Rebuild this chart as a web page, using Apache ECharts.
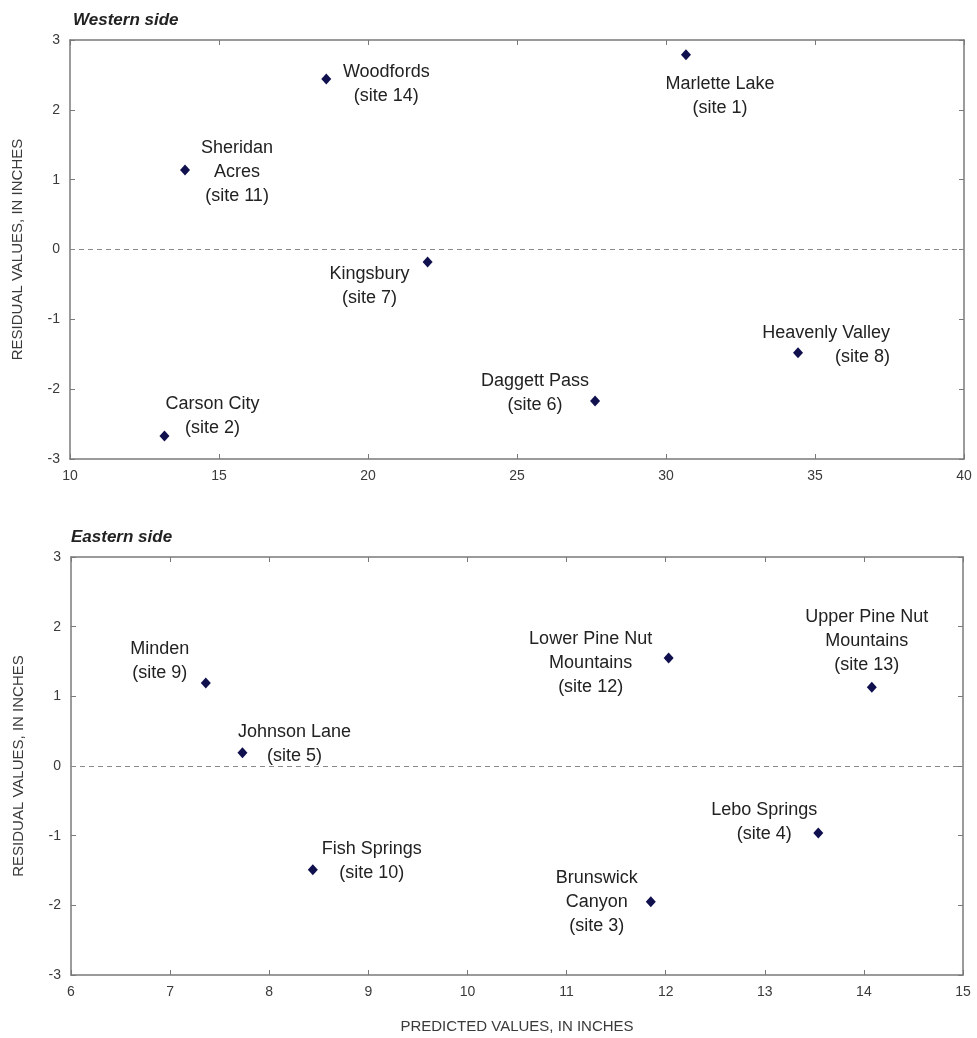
<!DOCTYPE html>
<html>
<head>
<meta charset="utf-8">
<script src="https://cdn.jsdelivr.net/npm/echarts@6/dist/echarts.min.js"></script>
<style>
  html, body { margin: 0; padding: 0; background: #fff; }
  #chart { width: 977px; height: 1038px; }
</style>
</head>
<body>
<div id="chart"></div>
<script>
// Western side sites
var westSites = [
    'Marlette Lake\n(site 1)',
    'Woodfords\n(site 14)',
    'Sheridan\nAcres\n(site 11)',
    'Kingsbury\n(site 7)',
    'Heavenly Valley\n(site 8)',
    'Daggett Pass\n(site 6)',
    'Carson City\n(site 2)'
];
var westPredicted = [30.67, 18.6, 13.86, 22.0, 34.43, 27.62, 13.17];
var westResidual = [2.79, 2.44, 1.14, -0.18, -1.48, -2.17, -2.67];

// Eastern side sites
var eastSites = [
    'Minden\n(site 9)',
    'Johnson Lane\n(site 5)',
    'Fish Springs\n(site 10)',
    'Lower Pine Nut\nMountains\n(site 12)',
    'Upper Pine Nut\nMountains\n(site 13)',
    'Lebo Springs\n(site 4)',
    'Brunswick\nCanyon\n(site 3)'
];
var eastPredicted = [7.36, 7.73, 8.44, 12.03, 14.08, 13.54, 11.85];
var eastResidual = [1.19, 0.19, -1.49, 1.55, 1.13, -0.96, -1.95];

var westTicks = [10, 15, 20, 25, 30, 35, 40];
var eastTicks = [6, 7, 8, 9, 10, 11, 12, 13, 14, 15];
var residualTicks = [-3, -2, -1, 0, 1, 2, 3];

// where each label sits relative to its marker
var westLabelPos = [
    {offset: [34, 41]},
    {offset: [60, 5]},
    {offset: [52, 2]},
    {offset: [-58, 24]},
    {offset: [92, -8], align: 'right'},
    {offset: [-60, -8]},
    {offset: [48, -20]}
];
var eastLabelPos = [
    {offset: [-46, -22]},
    {offset: [52, -9]},
    {offset: [59, -9]},
    {offset: [-78, 5]},
    {offset: [-5, -46]},
    {offset: [-54, -11]},
    {offset: [-54, 0]}
];

var axisColor = '#7a7a7a';
var textColor = '#3a3a3a';
var font = 'Liberation Sans, Arial, sans-serif';

function buildPoints(names, xs, ys, pos) {
    var list = [];
    for (var i = 0; i < names.length; i++) {
        list.push({
            name: names[i],
            value: [xs[i], ys[i]],
            label: {
                offset: pos[i].offset,
                align: pos[i].align || 'center'
            }
        });
    }
    return list;
}

function xAxes(gridIndex, ticks, showName) {
    var min = ticks[0], max = ticks[ticks.length - 1];
    var base = {
        gridIndex: gridIndex,
        type: 'value',
        min: min,
        max: max,
        interval: ticks[1] - ticks[0],
        axisLine: {show: true, onZero: false, lineStyle: {color: axisColor, width: 1.5}},
        axisTick: {show: true, inside: true, length: 5, lineStyle: {color: axisColor}},
        splitLine: {show: false}
    };
    var bottom = Object.assign({}, base, {
        position: 'bottom',
        axisLabel: {color: textColor, fontSize: 14, fontFamily: font, margin: 10}
    });
    if (showName) {
        bottom.name = 'PREDICTED VALUES, IN INCHES';
        bottom.nameLocation = 'middle';
        bottom.nameGap = 44;
        bottom.nameTextStyle = {color: textColor, fontSize: 15, fontFamily: font};
    }
    var top = Object.assign({}, base, {
        position: 'top',
        axisLabel: {show: false}
    });
    return [bottom, top];
}

function yAxes(gridIndex) {
    var base = {
        gridIndex: gridIndex,
        type: 'value',
        min: residualTicks[0],
        max: residualTicks[residualTicks.length - 1],
        interval: 1,
        axisLine: {show: true, onZero: false, lineStyle: {color: axisColor, width: 1.5}},
        axisTick: {show: true, inside: true, length: 5, lineStyle: {color: axisColor}},
        splitLine: {show: false}
    };
    var left = Object.assign({}, base, {
        position: 'left',
        name: 'RESIDUAL VALUES, IN INCHES',
        nameLocation: 'middle',
        nameGap: 45,
        nameTextStyle: {color: textColor, fontSize: 15, fontFamily: font},
        axisLabel: {color: textColor, fontSize: 14, fontFamily: font, margin: 10}
    });
    var right = Object.assign({}, base, {
        position: 'right',
        axisLabel: {show: false}
    });
    return [left, right];
}

function scatterSeries(xi, yi, data) {
    return {
        type: 'scatter',
        xAxisIndex: xi,
        yAxisIndex: yi,
        symbol: 'diamond',
        symbolSize: [10, 11],
        itemStyle: {color: '#10104f', opacity: 1},
        data: data,
        label: {
            show: true,
            position: 'inside',
            formatter: '{b}',
            color: '#222222',
            fontSize: 18,
            lineHeight: 24,
            fontFamily: font
        },
        emphasis: {disabled: true},
        markLine: {
            silent: true,
            symbol: 'none',
            label: {show: false},
            lineStyle: {color: '#8a8a8a', type: [5, 4], width: 1},
            data: [{yAxis: 0}]
        }
    };
}

var chart = echarts.init(document.getElementById('chart'));
var option = {
    backgroundColor: '#ffffff',
    animation: false,
    title: [
        {text: 'Western side', left: 68, top: 7,
            textStyle: {fontSize: 17, fontWeight: 'bold', fontStyle: 'italic', color: '#222', fontFamily: font}},
        {text: 'Eastern side', left: 66, top: 524,
            textStyle: {fontSize: 17, fontWeight: 'bold', fontStyle: 'italic', color: '#222', fontFamily: font}}
    ],
    grid: [
        {left: 70, top: 40, right: 13, bottom: 579},
        {left: 71, top: 557, right: 14, bottom: 63}
    ],
    xAxis: xAxes(0, westTicks, false).concat(xAxes(1, eastTicks, true)),
    yAxis: yAxes(0).concat(yAxes(1)),
    series: [
        scatterSeries(0, 0, buildPoints(westSites, westPredicted, westResidual, westLabelPos)),
        scatterSeries(2, 2, buildPoints(eastSites, eastPredicted, eastResidual, eastLabelPos))
    ]
};
chart.setOption(option);
</script>
</body>
</html>
